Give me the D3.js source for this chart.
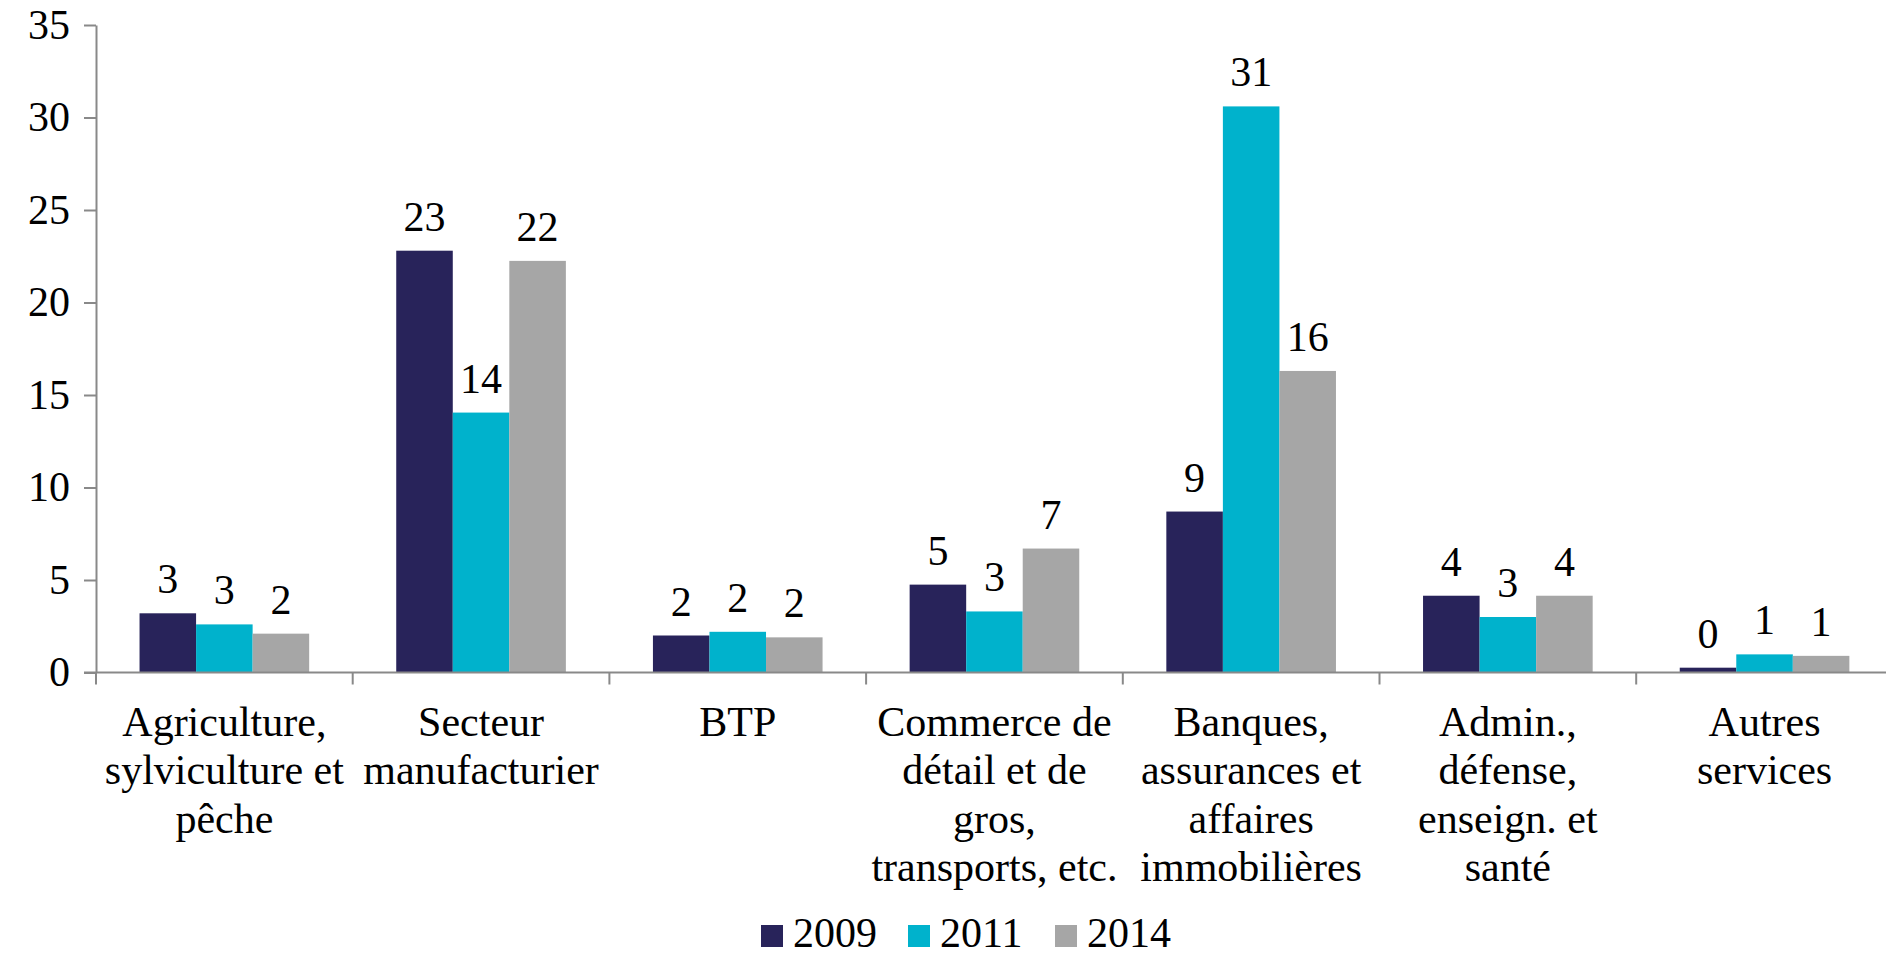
<!DOCTYPE html>
<html>
<head>
<meta charset="utf-8">
<script src="https://cdn.jsdelivr.net/npm/d3@7"></script>
<style>
  body { margin: 0; background: #fff; }
  svg { display: block; }
</style>
</head>
<body>
<svg width="1886" height="957"></svg>
<script>
// Data
var categories = [
  ["Agriculture,", "sylviculture et", "pêche"],
  ["Secteur", "manufacturier"],
  ["BTP"],
  ["Commerce de", "détail et de", "gros,", "transports, etc."],
  ["Banques,", "assurances et", "affaires", "immobilières"],
  ["Admin.,", "défense,", "enseign. et", "santé"],
  ["Autres", "services"]
];
var years = ["2009", "2011", "2014"];
var values2009 = [3.2, 22.8, 2.0, 4.75, 8.7, 4.15, 0.26];
var values2011 = [2.6, 14.05, 2.2, 3.3, 30.6, 3.0, 0.98];
var values2014 = [2.1, 22.25, 1.9, 6.7, 16.3, 4.15, 0.9];
var yTicks = [0, 5, 10, 15, 20, 25, 30, 35];
var colors = ["#28235A", "#00B2CC", "#A6A6A6"];

var series = [values2009, values2011, values2014];

var svg = d3.select("svg");
var margin = { left: 96, top: 25, bottom: 284.5 };
var plotRight = 96 + 7 * 256.7;
var fontSize = 42;
var font = "Liberation Serif";

var x0 = d3.scaleBand()
  .domain(d3.range(categories.length))
  .range([margin.left, plotRight])
  .padding(0);

var x1 = d3.scaleBand()
  .domain(years)
  .range([0, x0.bandwidth()])
  .paddingInner(0)
  .paddingOuter(0.77);

var y = d3.scaleLinear()
  .domain([0, 35])
  .range([957 - margin.bottom, margin.top]);

var color = d3.scaleOrdinal().domain(years).range(colors);

// Y axis
var yAxis = svg.append("g")
  .attr("transform", "translate(" + margin.left + ",0)")
  .call(d3.axisLeft(y).tickValues(yTicks).tickSize(12).tickPadding(14).tickSizeOuter(0));
yAxis.attr("font-family", font).attr("font-size", fontSize);
yAxis.select(".domain").attr("stroke", "#898989").attr("stroke-width", 2);
yAxis.selectAll(".tick line").attr("stroke", "#898989").attr("stroke-width", 2);
yAxis.selectAll(".tick text").attr("fill", "#000");

// Bars
var groups = svg.append("g").selectAll("g")
  .data(categories.map(function (c, i) { return i; }))
  .enter().append("g")
  .attr("transform", function (i) { return "translate(" + x0(i) + ",0)"; });

groups.selectAll("rect")
  .data(function (i) { return years.map(function (yr, k) { return { year: yr, v: series[k][i] }; }); })
  .enter().append("rect")
  .attr("x", function (d) { return x1(d.year); })
  .attr("width", x1.bandwidth())
  .attr("y", function (d) { return y(d.v); })
  .attr("height", function (d) { return y(0) - y(d.v); })
  .attr("fill", function (d) { return color(d.year); });

// Value labels
groups.selectAll("text.val")
  .data(function (i) { return years.map(function (yr, k) { return { year: yr, v: series[k][i] }; }); })
  .enter().append("text")
  .attr("class", "val")
  .attr("x", function (d) { return x1(d.year) + x1.bandwidth() / 2; })
  .attr("y", function (d) { return y(d.v) - 20; })
  .attr("text-anchor", "middle")
  .text(function (d) { return d3.format(".0f")(d.v); });

// X axis
var xAxis = svg.append("g")
  .attr("transform", "translate(0," + y(0) + ")");
xAxis.append("line")
  .attr("x1", margin.left - 12).attr("x2", plotRight)
  .attr("stroke", "#898989").attr("stroke-width", 2);
xAxis.selectAll("line.tick")
  .data(d3.range(categories.length + 1))
  .enter().append("line")
  .attr("class", "tick")
  .attr("x1", function (i) { return margin.left + i * x0.step(); })
  .attr("x2", function (i) { return margin.left + i * x0.step(); })
  .attr("y1", 0).attr("y2", 12)
  .attr("stroke", "#898989").attr("stroke-width", 2);

var catLabels = xAxis.selectAll("text.cat")
  .data(categories)
  .enter().append("text")
  .attr("class", "cat")
  .attr("text-anchor", "middle")
  .attr("transform", function (d, i) { return "translate(" + (x0(i) + x0.bandwidth() / 2) + ",63)"; });
catLabels.selectAll("tspan")
  .data(function (d) { return d; })
  .enter().append("tspan")
  .attr("x", 0)
  .attr("y", function (d, j) { return j * 48.5; })
  .text(function (d) { return d; });

// Legend
var legend = svg.append("g").attr("transform", "translate(761,947)");
var item = legend.selectAll("g")
  .data(years)
  .enter().append("g")
  .attr("transform", function (d, i) { return "translate(" + i * 147 + ",0)"; });
item.append("rect")
  .attr("x", 0).attr("y", -22)
  .attr("width", 22).attr("height", 22)
  .attr("fill", function (d) { return color(d); });
item.append("text")
  .attr("x", 32).attr("y", 0)
  .text(function (d) { return d; });

// Font for every text
svg.selectAll("text")
  .attr("font-family", font)
  .attr("font-size", fontSize)
  .attr("fill", "#000");
</script>
</body>
</html>
